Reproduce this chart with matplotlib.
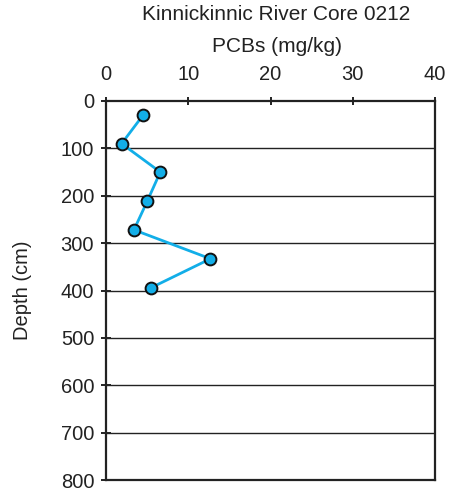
import matplotlib
matplotlib.use("Agg")
import matplotlib.pyplot as plt

plt.rcParams['font.family'] = ['Liberation Sans', 'DejaVu Sans']

# PCB concentrations down the core
pcb_mgkg = [4.5, 1.9, 6.6, 5.0, 3.4, 12.7, 5.5]
depth_cm = [30, 90, 150, 212, 272, 333, 394]

x_ticks = [0, 10, 20, 30, 40]
y_ticks = [0, 100, 200, 300, 400, 500, 600, 700, 800]

W, H = 466, 492
fig = plt.figure(figsize=(W / 100, H / 100), dpi=100)
ax = fig.add_axes([106 / W, 1 - 480 / H, (435 - 106) / W, (480 - 101) / H])

ax.set_xlim(0, 40)
ax.set_ylim(800, 0)
ax.set_xticks(x_ticks)
ax.set_yticks(y_ticks)

for y in y_ticks[1:-1]:
    ax.axhline(y, color='#222222', lw=1.0, zorder=1)

ax.plot(pcb_mgkg, depth_cm, color='#12aee8', lw=2.0, zorder=3,
        marker='o', markersize=8.5, markerfacecolor='#12aee8',
        markeredgecolor='#111111', markeredgewidth=1.4, clip_on=False)

for s in ax.spines.values():
    s.set_linewidth(1.6)
    s.set_color('#222222')

ax.xaxis.set_ticks_position('top')
ax.xaxis.set_label_position('top')
ax.tick_params(axis='x', direction='inout', length=6, width=1.4, pad=9,
               labelsize=14.5, colors='#222222')
ax.tick_params(axis='y', direction='inout', length=7, width=1.4, pad=5,
               labelsize=14.5, colors='#222222')

fig.text(276 / W, 1 - 15 / H, 'Kinnickinnic River Core 0212', ha='center',
         va='center', fontsize=15, color='#222222')
fig.text(277 / W, 1 - 47 / H, 'PCBs (mg/kg)', ha='center', va='center',
         fontsize=15, color='#222222')
fig.text(23 / W, 1 - 290 / H, 'Depth (cm)', ha='center', va='center',
         rotation=90, fontsize=14.5, color='#222222')

fig.savefig('out.png', dpi=100)
